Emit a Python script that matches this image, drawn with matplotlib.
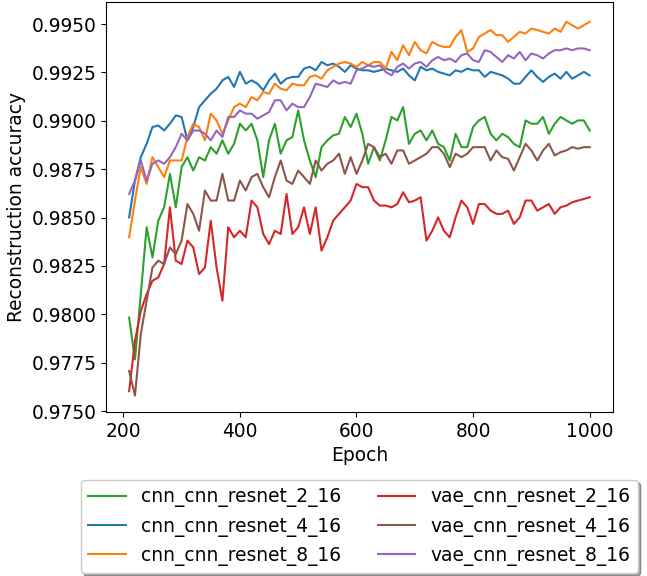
import matplotlib

matplotlib.use("Agg")
import matplotlib.pyplot as plt
import numpy as np
from matplotlib.ticker import FormatStrFormatter, MultipleLocator

plt.rcParams["font.size"] = 13.44

# epochs sampled every 10 from the curves
epochs = np.arange(210, 1001, 10)

cnn_cnn_resnet_2_16 = [
    0.97983, 0.97767, 0.98104, 0.98450, 0.98294, 0.98484, 0.98553, 0.98726, 0.98553, 0.98761,
    0.98812, 0.98743, 0.98812, 0.98795, 0.98864, 0.98830, 0.98899, 0.98830, 0.98881, 0.98985,
    0.98950, 0.98985, 0.98899, 0.98709, 0.98899, 0.98985, 0.98830, 0.98899, 0.98916, 0.99054,
    0.98899, 0.98795, 0.98709, 0.98864, 0.98899, 0.98925, 0.98933, 0.99020, 0.98968, 0.99037,
    0.98933, 0.98778, 0.98864, 0.98795, 0.98899, 0.99020, 0.99002, 0.99071, 0.98881, 0.98933,
    0.98950, 0.98899, 0.98950, 0.98881, 0.98864, 0.98795, 0.98933, 0.98864, 0.98864, 0.98968,
    0.99002, 0.99020, 0.98933, 0.98899, 0.98933, 0.98916, 0.98881, 0.98864, 0.99002, 0.98985,
    0.98985, 0.99020, 0.98933, 0.98985, 0.99020, 0.99002, 0.98985, 0.99002, 0.99002, 0.98950,
]
cnn_cnn_resnet_4_16 = [
    0.98501, 0.98691, 0.98812, 0.98881, 0.98968, 0.98976, 0.98950, 0.98985, 0.99028, 0.99020,
    0.98899, 0.98968, 0.99071, 0.99106, 0.99140, 0.99166, 0.99209, 0.99227, 0.99175, 0.99253,
    0.99192, 0.99209, 0.99192, 0.99158, 0.99209, 0.99244, 0.99192, 0.99218, 0.99227, 0.99227,
    0.99270, 0.99279, 0.99261, 0.99304, 0.99287, 0.99296, 0.99279, 0.99253, 0.99287, 0.99270,
    0.99261, 0.99261, 0.99253, 0.99261, 0.99270, 0.99261, 0.99253, 0.99270, 0.99235, 0.99209,
    0.99279, 0.99261, 0.99270, 0.99253, 0.99244, 0.99235, 0.99261, 0.99253, 0.99270, 0.99261,
    0.99261, 0.99227, 0.99253, 0.99244, 0.99235, 0.99218, 0.99192, 0.99192, 0.99227, 0.99261,
    0.99227, 0.99201, 0.99227, 0.99244, 0.99218, 0.99253, 0.99218, 0.99235, 0.99253, 0.99235,
]
cnn_cnn_resnet_8_16 = [
    0.98398, 0.98588, 0.98761, 0.98674, 0.98812, 0.98761, 0.98709, 0.98795, 0.98795, 0.98795,
    0.98916, 0.98985, 0.98968, 0.98899, 0.99037, 0.99002, 0.98933, 0.99002, 0.99071, 0.99089,
    0.99071, 0.99123, 0.99106, 0.99149, 0.99140, 0.99192, 0.99166, 0.99158, 0.99192, 0.99184,
    0.99184, 0.99227, 0.99235, 0.99218, 0.99261, 0.99279, 0.99296, 0.99304, 0.99296, 0.99279,
    0.99304, 0.99287, 0.99304, 0.99304, 0.99270, 0.99356, 0.99313, 0.99391, 0.99339, 0.99408,
    0.99365, 0.99348, 0.99408, 0.99391, 0.99382, 0.99382, 0.99434, 0.99469, 0.99356, 0.99374,
    0.99434, 0.99451, 0.99469, 0.99443, 0.99443, 0.99408, 0.99434, 0.99460, 0.99451, 0.99477,
    0.99469, 0.99460, 0.99451, 0.99477, 0.99460, 0.99512, 0.99494, 0.99477, 0.99494, 0.99512,
]
vae_cnn_resnet_2_16 = [
    0.97603, 0.97862, 0.98018, 0.98104, 0.98173, 0.98191, 0.98260, 0.98553, 0.98277, 0.98260,
    0.98381, 0.98346, 0.98208, 0.98242, 0.98484, 0.98242, 0.98070, 0.98450, 0.98398, 0.98432,
    0.98398, 0.98588, 0.98553, 0.98415, 0.98363, 0.98432, 0.98415, 0.98622, 0.98415, 0.98450,
    0.98553, 0.98415, 0.98553, 0.98329, 0.98398, 0.98484, 0.98519, 0.98553, 0.98588, 0.98674,
    0.98657, 0.98657, 0.98588, 0.98562, 0.98562, 0.98553, 0.98570, 0.98631, 0.98579, 0.98588,
    0.98605, 0.98381, 0.98432, 0.98501, 0.98432, 0.98398, 0.98501, 0.98588, 0.98553, 0.98467,
    0.98570, 0.98570, 0.98536, 0.98519, 0.98519, 0.98536, 0.98467, 0.98501, 0.98588, 0.98588,
    0.98536, 0.98553, 0.98570, 0.98519, 0.98553, 0.98562, 0.98579, 0.98588, 0.98596, 0.98605,
]
vae_cnn_resnet_4_16 = [
    0.97707, 0.97580, 0.97897, 0.98070, 0.98242, 0.98277, 0.98260, 0.98346, 0.98311, 0.98381,
    0.98570, 0.98519, 0.98432, 0.98640, 0.98588, 0.98588, 0.98726, 0.98588, 0.98588, 0.98691,
    0.98640, 0.98709, 0.98726, 0.98657, 0.98605, 0.98709, 0.98795, 0.98691, 0.98674, 0.98743,
    0.98709, 0.98674, 0.98795, 0.98743, 0.98778, 0.98795, 0.98830, 0.98726, 0.98812, 0.98726,
    0.98795, 0.98881, 0.98864, 0.98812, 0.98830, 0.98778, 0.98847, 0.98847, 0.98778, 0.98795,
    0.98812, 0.98830, 0.98864, 0.98864, 0.98830, 0.98761, 0.98830, 0.98812, 0.98830, 0.98864,
    0.98864, 0.98864, 0.98795, 0.98847, 0.98812, 0.98804, 0.98743, 0.98812, 0.98881, 0.98847,
    0.98795, 0.98847, 0.98881, 0.98821, 0.98838, 0.98847, 0.98864, 0.98856, 0.98864, 0.98864,
]
vae_cnn_resnet_8_16 = [
    0.98622, 0.98691, 0.98795, 0.98691, 0.98778, 0.98795, 0.98778, 0.98812, 0.98864, 0.98933,
    0.98899, 0.98950, 0.98950, 0.98933, 0.98899, 0.98950, 0.98916, 0.99020, 0.99020, 0.99054,
    0.99037, 0.99037, 0.99011, 0.99028, 0.99045, 0.99106, 0.99106, 0.99054, 0.99089, 0.99071,
    0.99071, 0.99123, 0.99192, 0.99184, 0.99175, 0.99209, 0.99192, 0.99201, 0.99192, 0.99261,
    0.99270, 0.99287, 0.99279, 0.99287, 0.99253, 0.99235, 0.99279, 0.99296, 0.99270, 0.99296,
    0.99304, 0.99279, 0.99313, 0.99330, 0.99313, 0.99322, 0.99304, 0.99339, 0.99348, 0.99313,
    0.99304, 0.99365, 0.99356, 0.99330, 0.99304, 0.99339, 0.99322, 0.99356, 0.99313, 0.99348,
    0.99339, 0.99322, 0.99348, 0.99365, 0.99365, 0.99374, 0.99365, 0.99374, 0.99374, 0.99365,
]

SERIES = [
    ("cnn_cnn_resnet_2_16", cnn_cnn_resnet_2_16, "tab:green"),
    ("cnn_cnn_resnet_4_16", cnn_cnn_resnet_4_16, "tab:blue"),
    ("cnn_cnn_resnet_8_16", cnn_cnn_resnet_8_16, "tab:orange"),
    ("vae_cnn_resnet_2_16", vae_cnn_resnet_2_16, "tab:red"),
    ("vae_cnn_resnet_4_16", vae_cnn_resnet_4_16, "tab:brown"),
    ("vae_cnn_resnet_8_16", vae_cnn_resnet_8_16, "tab:purple"),
]

fig = plt.figure(figsize=(6.47, 5.76), dpi=100)
ax = fig.add_axes([0.164, 0.285, 0.783, 0.7115])
for name, values, color in SERIES:
    ax.plot(epochs, values, color=color, linewidth=1.5, label=name)

ax.set_ylim(0.97496, 0.99614)
ax.xaxis.set_major_locator(MultipleLocator(200))
ax.yaxis.set_major_locator(MultipleLocator(0.0025))
ax.yaxis.set_major_formatter(FormatStrFormatter("%.4f"))
ax.set_xlabel("Epoch")
ax.set_ylabel("Reconstruction accuracy")
ax.legend(loc="upper center", bbox_to_anchor=(0.5, -0.143), ncol=2, shadow=True)

fig.savefig("out.png", dpi=100)
plt.close(fig)
